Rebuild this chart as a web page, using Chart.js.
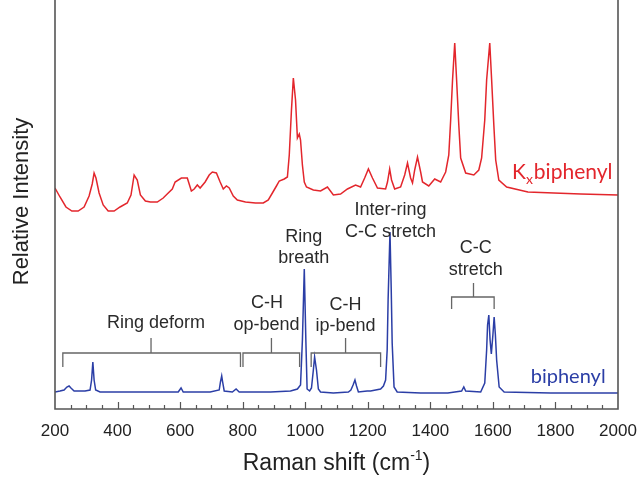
<!DOCTYPE html>
<html>
<head>
<meta charset="utf-8">
<script src="https://cdn.jsdelivr.net/npm/chart.js@4.4.0/dist/chart.umd.min.js"></script>
<style>
  html, body { margin: 0; padding: 0; background: #fff; }
</style>
</head>
<body>
<canvas id="ramanChart" width="643" height="477"></canvas>
<script>
// K_x biphenyl spectrum (drawn offset above the neat compound)
const kxShift = [200, 216, 235, 254, 274, 293, 309, 319, 325, 331, 341, 354, 370, 389, 408, 431, 443, 453, 463, 473,
  489, 505, 527, 546, 562, 575, 584, 604, 623, 636, 645, 655, 664, 680, 693, 703, 716, 728, 738, 748,
  757, 770, 783, 809, 841, 866, 882, 895, 908, 917, 933, 943, 949, 956, 962, 969, 975, 981, 985, 991,
  997, 1004, 1026, 1049, 1071, 1090, 1113, 1135, 1161, 1177, 1190, 1202, 1215, 1231, 1257, 1263, 1270, 1276, 1286, 1305,
  1318, 1327, 1337, 1343, 1350, 1359, 1369, 1375, 1395, 1414, 1433, 1449, 1459, 1465, 1471, 1478, 1484, 1491, 1497, 1513,
  1539, 1555, 1564, 1574, 1580, 1590, 1596, 1603, 1609, 1619, 1644, 1712, 1795, 1881, 2000];
const kxIntensity = [221, 212, 202, 198, 198, 202, 213, 225, 236, 231, 216, 204, 198, 198, 202, 206, 214, 234, 229, 214,
  208, 207, 207, 211, 216, 220, 227, 231, 231, 218, 220, 224, 221, 227, 234, 237, 236, 227, 220, 223,
  221, 213, 209, 207, 206, 206, 209, 216, 223, 228, 230, 232, 254, 299, 331, 309, 271, 275, 269, 244,
  227, 222, 219, 218, 222, 214, 215, 220, 224, 222, 231, 240, 231, 221, 220, 227, 240, 229, 220, 222,
  234, 246, 231, 226, 239, 252, 237, 227, 223, 230, 227, 237, 254, 289, 329, 366, 329, 284, 251, 236,
  234, 239, 251, 289, 329, 366, 329, 284, 249, 229, 222, 217, 216, 215, 214];

// neat biphenyl spectrum
const biShift = [200, 216, 229, 238, 245, 251, 261, 296, 312, 317, 321, 325, 330, 344, 472, 594, 603, 610, 696, 725,
  729, 733, 736, 741, 767, 779, 789, 889, 953, 975, 985, 991, 997, 1002, 1006, 1014, 1020, 1026, 1030, 1036,
  1042, 1049, 1090, 1138, 1146, 1153, 1159, 1164, 1170, 1198, 1209, 1241, 1250, 1257, 1262, 1265, 1271, 1275, 1278, 1284,
  1294, 1369, 1456, 1500, 1507, 1513, 1561, 1574, 1580, 1583, 1587, 1591, 1595, 1600, 1604, 1608, 1612, 1620, 1636, 1785,
  2000];
const biIntensity = [17, 18, 19, 22, 23, 21, 18, 18, 19, 29, 47, 29, 19, 17, 17, 17, 21, 17, 17, 19,
  27, 33, 27, 18, 17, 20, 17, 17, 18, 20, 24, 69, 140, 69, 20, 18, 21, 39, 52, 39,
  20, 17, 16, 17, 19, 24, 29, 23, 17, 18, 18, 20, 23, 29, 59, 109, 177, 119, 66, 22,
  17, 16, 16, 18, 22, 18, 17, 26, 59, 84, 94, 69, 55, 74, 92, 74, 49, 22, 17, 16,
  16];

const xTicks = [200, 400, 600, 800, 1000, 1200, 1400, 1600, 1800, 2000];

const sansFont = '"Liberation Sans", Arial, sans-serif';
const labelFont = 'Lato, "Open Sans", sans-serif';
const frameColor = '#555';

// band assignment brackets: span, foot height, bar height, stem top
const brackets = [
  { from: 225, to: 793, mid: 507, foot: 42, bar: 56, stem: 71 },
  { from: 801, to: 982, mid: 892, foot: 42, bar: 56, stem: 71 },
  { from: 1019, to: 1241, mid: 1129, foot: 42, bar: 56, stem: 71 },
  { from: 1468, to: 1604, mid: 1538, foot: 100, bar: 112, stem: 126 }
];

const bandNotes = [
  { text: 'Ring deform', x: 523, y: 86 },
  { text: 'C-H', x: 878, y: 106 },
  { text: 'op-bend', x: 876, y: 84 },
  { text: 'Ring', x: 995, y: 172 },
  { text: 'breath', x: 995, y: 151 },
  { text: 'C-H', x: 1129, y: 104 },
  { text: 'ip-bend', x: 1129, y: 83 },
  { text: 'Inter-ring', x: 1273, y: 199 },
  { text: 'C-C stretch', x: 1273, y: 177 },
  { text: 'C-C', x: 1545, y: 161 },
  { text: 'stretch', x: 1545, y: 139 }
];

const toPoints = (xs, ys) => xs.map((x, i) => ({ x: x, y: ys[i] }));

const decorPlugin = {
  id: 'decor',
  afterDatasetsDraw(chart) {
    const { ctx, chartArea: a, scales: { x, y } } = chart;
    ctx.save();

    // frame (left, bottom, right)
    ctx.strokeStyle = frameColor;
    ctx.lineWidth = 1.6;
    ctx.beginPath();
    ctx.moveTo(a.left, a.top);
    ctx.lineTo(a.left, a.bottom);
    ctx.lineTo(a.right, a.bottom);
    ctx.lineTo(a.right, a.top);
    ctx.stroke();

    // inward ticks: majors every 200, minors every 50
    ctx.lineWidth = 1.2;
    ctx.beginPath();
    for (let v = 250; v < 2000; v += 50) {
      const px = Math.round(x.getPixelForValue(v)) + 0.5;
      const len = v % 200 === 0 ? 7 : 4;
      ctx.moveTo(px, a.bottom);
      ctx.lineTo(px, a.bottom - len);
    }
    ctx.stroke();

    // brackets
    ctx.strokeStyle = '#666';
    ctx.lineWidth = 1.3;
    brackets.forEach(b => {
      const x1 = x.getPixelForValue(b.from);
      const x2 = x.getPixelForValue(b.to);
      const xm = x.getPixelForValue(b.mid);
      const yf = y.getPixelForValue(b.foot);
      const yb = y.getPixelForValue(b.bar);
      const ys = y.getPixelForValue(b.stem);
      ctx.beginPath();
      ctx.moveTo(x1, yf);
      ctx.lineTo(x1, yb);
      ctx.lineTo(x2, yb);
      ctx.lineTo(x2, yf);
      ctx.moveTo(xm, yb);
      ctx.lineTo(xm, ys);
      ctx.stroke();
    });

    // band names
    ctx.fillStyle = '#2a2a2a';
    ctx.font = '18px ' + sansFont;
    ctx.textAlign = 'center';
    ctx.textBaseline = 'middle';
    bandNotes.forEach(n => {
      ctx.fillText(n.text, x.getPixelForValue(n.x), y.getPixelForValue(n.y));
    });

    // series names
    ctx.textAlign = 'left';
    ctx.fillStyle = '#2b3ea6';
    ctx.font = '20px ' + labelFont;
    ctx.fillText('biphenyl', x.getPixelForValue(1721), y.getPixelForValue(32));

    ctx.fillStyle = '#e3262c';
    let kx = x.getPixelForValue(1661);
    const ky = y.getPixelForValue(237);
    ctx.font = '21px ' + labelFont;
    ctx.fillText('K', kx, ky);
    kx += ctx.measureText('K').width;
    ctx.font = '14px ' + labelFont;
    ctx.fillText('x', kx, ky + 7);
    kx += ctx.measureText('x').width + 1;
    ctx.font = '21px ' + labelFont;
    ctx.fillText('biphenyl', kx, ky);

    // axis titles
    ctx.fillStyle = '#222';
    ctx.font = '22px ' + sansFont;
    ctx.textAlign = 'center';
    ctx.save();
    ctx.translate(22, (a.top + a.bottom) / 2 - 3);
    ctx.rotate(-Math.PI / 2);
    ctx.fillText('Relative Intensity', 0, 0);
    ctx.restore();

    const main = 'Raman shift (cm';
    const sup = '-1';
    ctx.font = '23px ' + sansFont;
    const wMain = ctx.measureText(main).width;
    const wClose = ctx.measureText(')').width;
    ctx.font = '14px ' + sansFont;
    const wSup = ctx.measureText(sup).width;
    let tx = (a.left + a.right) / 2 - (wMain + wSup + wClose) / 2;
    const ty = 464;
    ctx.textAlign = 'left';
    ctx.font = '23px ' + sansFont;
    ctx.fillText(main, tx, ty);
    tx += wMain;
    ctx.font = '14px ' + sansFont;
    ctx.fillText(sup, tx, ty - 8);
    tx += wSup;
    ctx.font = '23px ' + sansFont;
    ctx.fillText(')', tx, ty);

    ctx.restore();
  }
};

const ramanChart = new Chart(document.getElementById('ramanChart').getContext('2d'), {
  type: 'line',
  data: {
    datasets: [
      {
        label: 'Kxbiphenyl',
        data: toPoints(kxShift, kxIntensity),
        borderColor: '#e3262c',
        borderWidth: 1.5,
        pointRadius: 0,
        tension: 0,
        fill: false
      },
      {
        label: 'biphenyl',
        data: toPoints(biShift, biIntensity),
        borderColor: '#2b3ea6',
        borderWidth: 1.5,
        pointRadius: 0,
        tension: 0,
        fill: false
      }
    ]
  },
  options: {
    responsive: false,
    animation: false,
    layout: { padding: { left: 55, right: 25, top: 0, bottom: 0 } },
    scales: {
      x: {
        type: 'linear',
        min: 200,
        max: 2000,
        afterBuildTicks: scale => { scale.ticks = xTicks.map(v => ({ value: v })); },
        afterFit: scale => { scale.height = 68; scale.paddingRight = 0; scale.paddingLeft = 0; },
        grid: { display: false },
        border: { display: false },
        ticks: {
          color: '#222',
          padding: 4,
          maxRotation: 0,
          autoSkip: false,
          callback: v => String(v),
          font: { family: sansFont, size: 17 }
        }
      },
      y: {
        display: false,
        min: 0,
        max: 409
      }
    },
    plugins: {
      legend: { display: false },
      tooltip: { enabled: false }
    }
  },
  plugins: [decorPlugin]
});
</script>
</body>
</html>
